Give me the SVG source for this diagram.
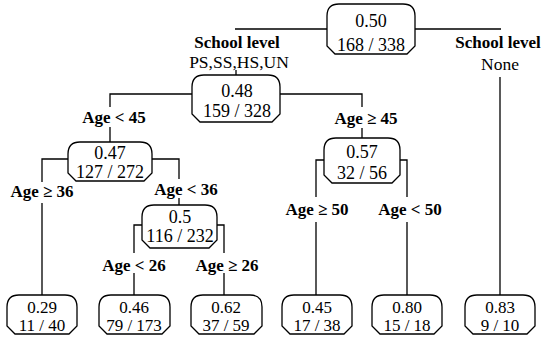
<svg xmlns="http://www.w3.org/2000/svg" width="550" height="344" viewBox="0 0 550 344" font-family="Liberation Serif, DejaVu Serif, serif">
<style>
.box{fill:#fff;stroke:#000;stroke-width:1.3}
.ln{fill:none;stroke:#000;stroke-width:1.3}
text{font-family:"Liberation Serif","DejaVu Serif",serif;fill:#000;text-anchor:middle}
.nt{font-size:18px}
.lt{font-size:17px}
.lb{font-size:17px;font-weight:bold}
.lr{font-size:17.5px}
</style>
<rect width="550" height="344" fill="#fff"/>
<g id="connectors">
<path class="ln" d="M235,29 H327 M415,29 H501"/>
<path class="ln" d="M500,77 V295"/>
<path class="ln" d="M236,70 V75"/>
<path class="ln" d="M192,94 H110 V107 M110,127 V142"/>
<path class="ln" d="M280,94 H362 V107 M362,128 V138"/>
<path class="ln" d="M68,159 H42 V182 M42,203 V295"/>
<path class="ln" d="M152,159 H179 V179 M179,198 V205"/>
<path class="ln" d="M142,225 H134 V253 M134,273 V295"/>
<path class="ln" d="M217,225 H224 V253 M224,273 V295"/>
<path class="ln" d="M324,160 H316 V197 M316,222 V295"/>
<path class="ln" d="M400,160 H407 V197 M407,222 V295"/>
</g>
<g id="labels">
<text class="lb" x="237" y="48">School level</text>
<text class="lr" x="239" y="68">PS,SS,HS,UN</text>
<text class="lb" x="498" y="48">School level</text>
<text class="lr" x="500" y="70">None</text>
<text class="lb" x="114" y="123">Age &lt; 45</text>
<text class="lb" x="366" y="124">Age ≥ 45</text>
<text class="lb" x="42" y="197">Age ≥ 36</text>
<text class="lb" x="186" y="195">Age &lt; 36</text>
<text class="lb" x="134" y="271">Age &lt; 26</text>
<text class="lb" x="227" y="271">Age ≥ 26</text>
<text class="lb" x="317" y="215">Age ≥ 50</text>
<text class="lb" x="410" y="215">Age &lt; 50</text>
</g>
<g id="n-root">
<path class="box" d="M339,4 H403 Q415,4 415,16 V46 L407,54 H335 L327,46 V16 Q327,4 339,4 Z"/>
<text class="nt" x="371" y="27">0.50</text>
<text class="nt" x="371" y="51">168 / 338</text>
</g>
<g id="n-048">
<path class="box" d="M204,75 H268 Q280,75 280,87 V114 L272,122 H200 L192,114 V87 Q192,75 204,75 Z"/>
<text class="nt" x="237" y="97">0.48</text>
<text class="nt" x="237" y="117">159 / 328</text>
</g>
<g id="n-047">
<path class="box" d="M80,142 H140 Q152,142 152,154 V173 L144,181 H76 L68,173 V154 Q68,142 80,142 Z"/>
<text class="nt" x="110" y="159">0.47</text>
<text class="nt" x="110" y="178">127 / 272</text>
</g>
<g id="n-05">
<path class="box" d="M154,205 H205 Q217,205 217,217 V240 L209,248 H150 L142,240 V217 Q142,205 154,205 Z"/>
<text class="nt" x="180" y="223">0.5</text>
<text class="nt" x="180" y="242">116 / 232</text>
</g>
<g id="n-057">
<path class="box" d="M336,138 H388 Q400,138 400,150 V175 L392,183 H332 L324,175 V150 Q324,138 336,138 Z"/>
<text class="nt" x="362" y="158">0.57</text>
<text class="nt" x="362" y="179">32 / 56</text>
</g>
<g id="leaf-029">
<path class="box" d="M19,295 H65 Q77,295 77,307 V326 L69,334 H15 L7,326 V307 Q7,295 19,295 Z"/>
<text class="lt" x="42" y="313">0.29</text>
<text class="lt" x="42" y="331">11 / 40</text>
</g>
<g id="leaf-046">
<path class="box" d="M111,295 H158 Q170,295 170,307 V326 L162,334 H107 L99,326 V307 Q99,295 111,295 Z"/>
<text class="lt" x="134" y="313">0.46</text>
<text class="lt" x="134" y="331">79 / 173</text>
</g>
<g id="leaf-062">
<path class="box" d="M203,295 H250 Q262,295 262,307 V326 L254,334 H199 L191,326 V307 Q191,295 203,295 Z"/>
<text class="lt" x="226" y="313">0.62</text>
<text class="lt" x="226" y="331">37 / 59</text>
</g>
<g id="leaf-045">
<path class="box" d="M294,295 H340 Q352,295 352,307 V326 L344,334 H290 L282,326 V307 Q282,295 294,295 Z"/>
<text class="lt" x="317" y="313">0.45</text>
<text class="lt" x="317" y="331">17 / 38</text>
</g>
<g id="leaf-080">
<path class="box" d="M384,295 H430 Q442,295 442,307 V326 L434,334 H380 L372,326 V307 Q372,295 384,295 Z"/>
<text class="lt" x="407" y="313">0.80</text>
<text class="lt" x="407" y="331">15 / 18</text>
</g>
<g id="leaf-083">
<path class="box" d="M477,295 H523 Q535,295 535,307 V326 L527,334 H473 L465,326 V307 Q465,295 477,295 Z"/>
<text class="lt" x="500" y="313">0.83</text>
<text class="lt" x="500" y="331">9 / 10</text>
</g>
</svg>
